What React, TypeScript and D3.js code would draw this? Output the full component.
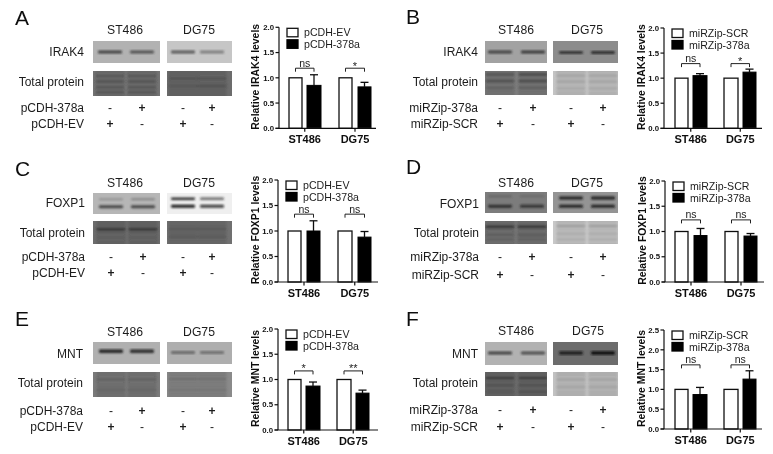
import React from "react";
import * as d3 from "d3";

// ---------- data ----------
const panelLetters = ["A", "B", "C", "D", "E", "F"];
const targets = ["IRAK4", "IRAK4", "FOXP1", "FOXP1", "MNT", "MNT"];
const cellLines = ["ST486", "DG75"];
const treatedNames = ["pCDH-378a", "miRZip-378a", "pCDH-378a", "miRZip-378a", "pCDH-378a", "miRZip-378a"];
const controlNames = ["pCDH-EV", "miRZip-SCR", "pCDH-EV", "miRZip-SCR", "pCDH-EV", "miRZip-SCR"];
const controlValues = [[1, 1], [1, 1], [1, 1], [1, 1], [1, 1], [1, 1]];
const treatedValues = [[0.85, 0.82], [1.05, 1.12], [1.0, 0.88], [0.92, 0.91], [0.87, 0.73], [0.87, 1.26]];
const treatedErrTop = [[1.06, 0.91], [1.09, 1.18], [1.2, 0.99], [1.06, 0.96], [0.95, 0.79], [1.05, 1.47]];
const significance = [["ns", "*"], ["ns", "*"], ["ns", "ns"], ["ns", "ns"], ["*", "**"], ["ns", "ns"]];
const bracketLevels = [1.19, 1.29, 1.33, 1.23, 1.17, 1.62];
const axisMax = [2, 2, 2, 2, 2, 2.5];
const rowSigns = [["-", "+", "-", "+"], ["+", "-", "+", "-"]];

// gels: background, then bands [position in gel, colour, thickness, strength lane 1, strength lane 2]
type Band = [number, string, number, number, number];
const targetGelBg = [["#b2b2b2", "#c6c6c6"], ["#a2a2a2", "#8c8c8c"], ["#b6b6b6", "#efefef"], ["#7c7c7c", "#949494"], ["#b0b0b0", "#aeaeae"], ["#b2b2b2", "#6c6c6c"]];
const totalGelBg = [["#737373", "#6c6c6c"], ["#7c7c7c", "#c4c4c4"], ["#6c6c6c", "#707070"], ["#757575", "#c8c8c8"], ["#7a7a7a", "#8a8a8a"], ["#6a6a6a", "#c2c2c2"]];
const targetBands: Band[][][] = [
  [[[0.5, "#333", 3, 0.9, 0.75]], [[0.5, "#444", 3, 0.85, 0.55]]],
  [[[0.5, "#333", 3, 0.85, 0.95]], [[0.52, "#222", 3, 0.8, 0.9]]],
  [[[0.3, "#777", 2, 0.6, 0.8], [0.65, "#333", 3, 0.85, 0.85]], [[0.27, "#222", 2.5, 0.95, 0.65], [0.63, "#111", 3, 0.95, 0.8]]],
  [[[0.2, "#555", 2, 0.6, 0.5], [0.68, "#222", 3, 0.9, 0.8]], [[0.28, "#1a1a1a", 3, 0.9, 0.95], [0.68, "#1a1a1a", 3, 0.95, 0.95]]],
  [[[0.42, "#1c1c1c", 3.5, 0.95, 0.9]], [[0.48, "#555", 3, 0.8, 0.7]]],
  [[[0.48, "#333", 3, 0.9, 0.8]], [[0.48, "#151515", 3.5, 0.85, 1]]],
];
const totalBands: Band[][][] = [
  [[[0.2, "#444", 2, 0.6, 0.6], [0.42, "#444", 2, 0.7, 0.7], [0.65, "#444", 2, 0.6, 0.6], [0.85, "#444", 2, 0.6, 0.6]], [[0.3, "#444", 3, 0.4, 0.5], [0.6, "#444", 3, 0.4, 0.5]]],
  [[[0.15, "#444", 3, 0.6, 0.8], [0.42, "#444", 3, 0.7, 0.8], [0.7, "#555", 3, 0.5, 0.6]], [[0.2, "#999", 2.5, 0.6, 0.6], [0.45, "#999", 2.5, 0.6, 0.6], [0.72, "#a0a0a0", 2.5, 0.5, 0.6]]],
  [[[0.36, "#333", 3, 0.85, 0.85], [0.72, "#555", 3, 0.4, 0.4]], [[0.35, "#4a4a4a", 3, 0.5, 0.5], [0.68, "#4a4a4a", 3, 0.4, 0.4]]],
  [[[0.25, "#2c2c2c", 2.5, 0.9, 0.9], [0.6, "#555", 3, 0.5, 0.6], [0.82, "#555", 2.5, 0.4, 0.5]], [[0.22, "#999", 2.5, 0.8, 0.8], [0.55, "#aaa", 3, 0.6, 0.6], [0.8, "#aaa", 3, 0.5, 0.5]]],
  [[[0.3, "#555", 2.5, 0.5, 0.5], [0.72, "#555", 3, 0.4, 0.4]], [[0.28, "#666", 2.5, 0.7, 0.6], [0.72, "#666", 3, 0.4, 0.4]]],
  [[[0.25, "#333", 2.5, 0.8, 0.8], [0.55, "#4a4a4a", 3, 0.5, 0.7], [0.82, "#4a4a4a", 3, 0.4, 0.7]], [[0.32, "#999", 2.5, 0.6, 0.6], [0.62, "#999", 3, 0.5, 0.5]]],
];

// ---------- layout ----------
const layouts = [
  { letter: [15, 25], headerY: 34, headerX: [125, 199], gelX: [[93, 160], [167, 232]], targetY: [41, 63], totalY: [71, 96], labelX: 84, labelY: [52, 82, 108, 124], signX: [110, 142, 183, 212], axisX: 279, axisEnd: 376, y0: 128.3, yTop: 27.3, bars: [[289, 302], [307, 321], [339, 352], [358, 371]], titleX: 259 },
  { letter: [406, 24], headerY: 34, headerX: [516, 587], gelX: [[485, 547], [553, 618]], targetY: [41, 63], totalY: [71, 95], labelX: 478, labelY: [52, 82, 108, 124], signX: [500, 533, 571, 603], axisX: 664, axisEnd: 762, y0: 128.3, yTop: 28, bars: [[675, 688], [693, 707], [724, 738], [743, 756]], titleX: 645 },
  { letter: [15, 176], headerY: 187, headerX: [125, 199], gelX: [[93, 160], [167, 232]], targetY: [193, 214], totalY: [221, 244], labelX: 85, labelY: [203, 233, 257, 273], signX: [111, 143, 183, 212], axisX: 278, axisEnd: 378, y0: 282, yTop: 180, bars: [[288, 301], [307, 320], [338, 352], [358, 371]], titleX: 259 },
  { letter: [406, 174], headerY: 187, headerX: [516, 587], gelX: [[485, 547], [553, 618]], targetY: [192, 213], totalY: [221, 244], labelX: 479, labelY: [204, 233, 257, 275], signX: [500, 532, 571, 603], axisX: 665, axisEnd: 764, y0: 282, yTop: 181, bars: [[675, 688], [694, 707], [725, 738], [744, 757]], titleX: 646 },
  { letter: [15, 326], headerY: 336, headerX: [125, 199], gelX: [[93, 160], [167, 232]], targetY: [342, 364], totalY: [372, 397], labelX: 83, labelY: [354, 383, 411, 427], signX: [111, 142, 183, 212], axisX: 278, axisEnd: 378, y0: 430, yTop: 329, bars: [[288, 301], [306, 320], [337, 351], [356, 369]], titleX: 259 },
  { letter: [406, 326], headerY: 335, headerX: [516, 588], gelX: [[485, 547], [553, 618]], targetY: [342, 365], totalY: [372, 396], labelX: 478, labelY: [354, 383, 410, 427], signX: [500, 533, 571, 603], axisX: 664, axisEnd: 762, y0: 429, yTop: 330, bars: [[675, 688], [693, 707], [724, 738], [743, 756]], titleX: 645 },
];
const sans = "'Liberation Sans', Arial, sans-serif";
const ink = "#1c1c1c";

type Lay = (typeof layouts)[number];

function Gel({ id, x0, x1, y0, y1, bg, bands, laneW, laneX, wash }: { id: string; x0: number; x1: number; y0: number; y1: number; bg: string; bands: Band[]; laneW: number; laneX: number[]; wash: boolean }) {
  const y = d3.scaleLinear().domain([0, 1]).range([y0, y1]);
  return (
    <g>
      <clipPath id={id}><rect x={x0} y={y0} width={x1 - x0} height={y1 - y0} /></clipPath>
      <rect x={x0} y={y0} width={x1 - x0} height={y1 - y0} fill={bg} />
      <g clipPath={`url(#${id})`}>
        <g filter="url(#bandBlur)">
          {wash && laneX.map((lx, i) => <rect key={i} x={lx - laneW / 2} y={y0 - 3} width={laneW} height={y1 - y0 + 6} fill="#000" opacity={0.1} />)}
          {bands.map((b, i) => laneX.map((lx, l) => (
            <rect key={`${i}-${l}`} x={lx - laneW / 2} y={y(b[0]) - b[2] / 2} width={laneW} height={b[2]} rx={1} fill={b[1]} opacity={b[3 + l]} />
          )))}
        </g>
      </g>
    </g>
  );
}

function Blots({ p, lay }: { p: number; lay: Lay }) {
  return (
    <g>
      {lay.gelX.map((gx, g) => {
        const lanes = lay.signX.slice(g * 2, g * 2 + 2);
        return (
          <g key={g}>
            <text x={lay.headerX[g]} y={lay.headerY} textAnchor="middle" fontSize={12.2} fill={ink}>{cellLines[g]}</text>
            <Gel id={`t${p}${g}`} x0={gx[0]} x1={gx[1]} y0={lay.targetY[0]} y1={lay.targetY[1]} bg={targetGelBg[p][g]} bands={targetBands[p][g]} laneW={24} laneX={lanes} wash={false} />
            <Gel id={`l${p}${g}`} x0={gx[0]} x1={gx[1]} y0={lay.totalY[0]} y1={lay.totalY[1]} bg={totalGelBg[p][g]} bands={totalBands[p][g]} laneW={29} laneX={lanes} wash={true} />
          </g>
        );
      })}
      {[targets[p], "Total protein", treatedNames[p], controlNames[p]].map((t, i) => (
        <text key={i} x={lay.labelX} y={lay.labelY[i]} dy="0.35em" textAnchor="end" fontSize={12} fill={ink}>{t}</text>
      ))}
      {rowSigns.map((row, r) => row.map((s, c) => (
        <text key={`${r}-${c}`} x={lay.signX[c]} y={lay.labelY[r + 2]} dy="0.35em" textAnchor="middle" fontSize={12} fontWeight={s === "+" ? 700 : 400} fill={ink}>{s}</text>
      )))}
    </g>
  );
}

function Bars({ p, lay }: { p: number; lay: Lay }) {
  const y = d3.scaleLinear().domain([0, axisMax[p]]).range([lay.y0, lay.yTop]);
  const ticks = d3.range(0, axisMax[p] + 0.01, 0.5);
  const barW = (i: number) => lay.bars[i];
  const swatchX = lay.axisX + 8;
  const sy = lay.yTop;
  return (
    <g>
      {cellLines.map((c, g) => {
        const w = barW(g * 2);
        const b = barW(g * 2 + 1);
        const cw = (w[0] + w[1]) / 2;
        const cb = (b[0] + b[1]) / 2;
        const by = y(bracketLevels[p]);
        const s = significance[p][g];
        return (
          <g key={c}>
            <rect x={w[0]} y={y(controlValues[p][g])} width={w[1] - w[0]} height={lay.y0 - y(controlValues[p][g])} fill="#fff" stroke="#111" strokeWidth={1.3} />
            <line x1={cb} x2={cb} y1={y(treatedErrTop[p][g])} y2={y(treatedValues[p][g])} stroke="#111" strokeWidth={1.3} />
            <line x1={cb - 4} x2={cb + 4} y1={y(treatedErrTop[p][g])} y2={y(treatedErrTop[p][g])} stroke="#111" strokeWidth={1.3} />
            <rect x={b[0]} y={y(treatedValues[p][g])} width={b[1] - b[0]} height={lay.y0 - y(treatedValues[p][g])} fill="#050505" stroke="#050505" strokeWidth={1} />
            <path d={`M${cw},${by + 3.5}V${by}H${cb}V${by + 3.5}`} fill="none" stroke="#222" strokeWidth={1} />
            <text x={(cw + cb) / 2} y={by - (s === "ns" ? 1.5 : -1.5)} textAnchor="middle" fontSize={s === "ns" ? 10.5 : 11} fill={ink}>{s}</text>
            <line x1={(cw + cb) / 2} x2={(cw + cb) / 2} y1={lay.y0} y2={lay.y0 + 3.5} stroke="#111" strokeWidth={1.2} />
            <text x={(cw + cb) / 2} y={lay.y0 + 14.5} textAnchor="middle" fontSize={11} fontWeight={700} fill="#111">{c}</text>
          </g>
        );
      })}
      <line x1={lay.axisX} x2={lay.axisX} y1={lay.yTop} y2={lay.y0} stroke="#111" strokeWidth={1.2} />
      <line x1={lay.axisX - 3.5} x2={lay.axisEnd} y1={lay.y0} y2={lay.y0} stroke="#111" strokeWidth={1.2} />
      {ticks.map((t) => (
        <g key={t}>
          <line x1={lay.axisX - 3.5} x2={lay.axisX} y1={y(t)} y2={y(t)} stroke="#111" strokeWidth={1.2} />
          <text x={lay.axisX - 5} y={y(t)} dy="0.35em" textAnchor="end" fontSize={7.8} fontWeight={700} fill="#111">{d3.format(".1f")(t)}</text>
        </g>
      ))}
      <text transform={`translate(${lay.titleX},${(lay.y0 + lay.yTop) / 2 - 1}) rotate(-90)`} textAnchor="middle" fontSize={10.4} fontWeight={700} fill="#111">{`Relative ${targets[p]} levels`}</text>
      <rect x={swatchX} y={sy + 1} width={11} height={8.5} fill="#fff" stroke="#111" strokeWidth={1.3} />
      <rect x={swatchX} y={sy + 12.5} width={11} height={8.5} fill="#050505" stroke="#050505" strokeWidth={1.3} />
      <text x={swatchX + 17} y={sy + 5.3} dy="0.35em" fontSize={10.6} fill={ink}>{controlNames[p]}</text>
      <text x={swatchX + 17} y={sy + 16.8} dy="0.35em" fontSize={10.6} fill={ink}>{treatedNames[p]}</text>
    </g>
  );
}

export default function App() {
  return (
    <svg width={773} height={454} viewBox="0 0 773 454" style={{ position: "absolute", left: 0, top: 0, display: "block", background: "#fff" }} fontFamily={sans}>
      <defs>
        <filter id="soft" x={0} y={0} width={773} height={454} filterUnits="userSpaceOnUse">
          <feGaussianBlur stdDeviation={0.35} />
        </filter>
        <filter id="bandBlur" x="-10%" y="-30%" width="120%" height="160%">
          <feGaussianBlur stdDeviation={0.9} />
        </filter>
      </defs>
      <rect x={0} y={0} width={773} height={454} fill="#fff" />
      <g filter="url(#soft)">
        {layouts.map((lay, p) => (
          <g key={p}>
            <text x={lay.letter[0]} y={lay.letter[1]} fontSize={21} fill="#111">{panelLetters[p]}</text>
            <Blots p={p} lay={lay} />
            <Bars p={p} lay={lay} />
          </g>
        ))}
      </g>
    </svg>
  );
}
